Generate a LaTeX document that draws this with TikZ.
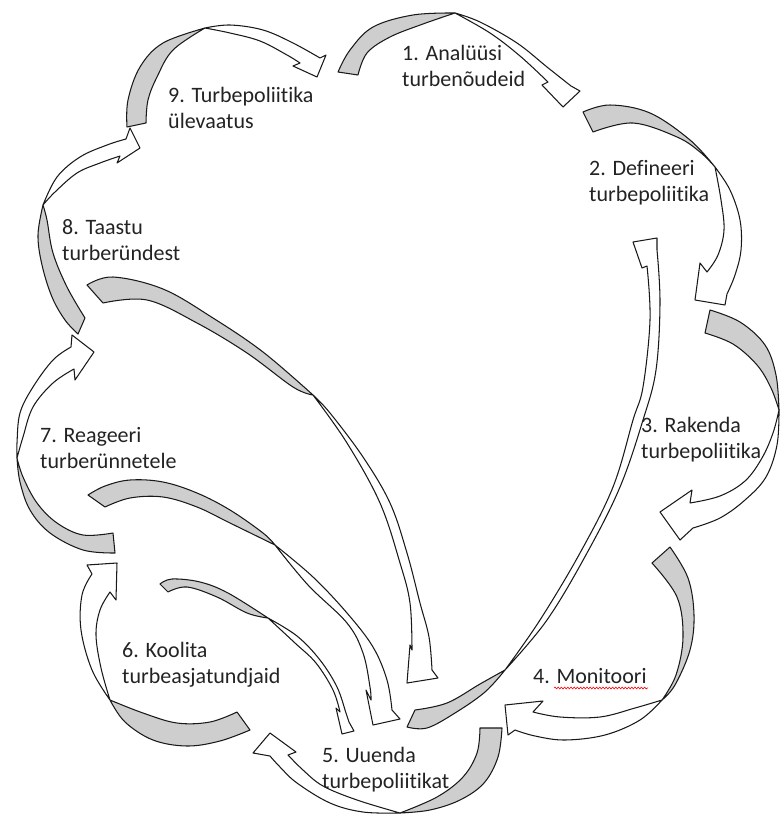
\documentclass[tikz,border=0pt]{standalone}
\usepackage{fontspec}
\setmainfont{Carlito}[Ligatures={NoCommon,NoRequired,NoContextual}]
\usetikzlibrary{decorations.pathmorphing}

\definecolor{bandback}{RGB}{206,206,206}
\definecolor{inkline}{RGB}{25,25,25}
\definecolor{labeltext}{RGB}{35,35,35}

\tikzset{
  backside/.style={fill=bandback, draw=inkline, line width=1.05pt, line join=round},
  frontside/.style={fill=white, draw=inkline, line width=1.05pt, line join=round},
  steplabel/.style={anchor=base west, inner sep=0pt, text=labeltext,
                    font=\fontsize{22}{26}\selectfont},
  spellmark/.style={draw=red, line width=0.6pt,
                    decorate, decoration={snake, amplitude=0.9pt, segment length=3.2pt}},
}

% A twisted curved arrow: shaded back part (outer edge to crossing, then
% inner edge back to the tail), then the white front part with its head.
% #1 outer edge tail->crossing, #2 inner edge crossing->tail,
% #3 outer edge crossing->neck, #4 head corners, #5 inner edge neck->crossing
\newcommand\twistarrow[5]{%
  \filldraw[backside] plot[smooth,tension=0.6] coordinates {#1}
     -- plot[smooth,tension=0.6] coordinates {#2} -- cycle;
  \filldraw[frontside] plot[smooth,tension=0.6] coordinates {#3}
     -- #4 -- plot[smooth,tension=0.6] coordinates {#5} -- cycle;
}

\begin{document}
\begin{tikzpicture}[x=1pt,y=-1pt]
\useasboundingbox (0,0) rectangle (780,814);

% 9 -> 1
\twistarrow{(127,127) (128,100) (140,67) (163,43) (205,28)}
  {(205,28) (173,50) (157,77) (148,100) (146,123)}
  {(205,28) (230,25) (263,30) (293,43) (320,58)}
  {(326,55) -- (317,77) -- (293,66)}
  {(300,63) (287,55) (260,41) (230,33) (205,28)}

% 1 -> 2
\twistarrow{(338,72) (350,50) (373,27) (413,15) (455,13)}
  {(455,13) (423,24) (390,37) (367,53) (358,75)}
  {(455,13) (480,22) (517,43) (547,67) (571,86)}
  {(580,91) -- (563,107) -- (542,85)}
  {(548,82) (520,56) (490,33) (455,13)}

% 2 -> 3
\twistarrow{(583,112) (610,105) (650,113) (690,140) (715,167)}
  {(715,167) (700,152) (677,137) (633,123) (593,132)}
  {(715,167) (730,190) (740,220) (741,250) (735,275) (727,294)}
  {(725,305) -- (695,300) -- (700,263)}
  {(707,272) (718,255) (724,230) (721,200) (715,167)}

% 3 -> 4
\twistarrow{(710,310) (740,322) (765,345) (776,375) (779,410)}
  {(779,410) (771,388) (757,365) (733,344) (705,333)}
  {(779,410) (777,445) (766,477) (745,500) (720,518) (693,528)}
  {(680,540) -- (660,512) -- (692,490)}
  {(690,503) (720,496) (745,481) (762,458) (773,433) (779,410)}

% 4 -> 5
\twistarrow{(670,547) (688,578) (694,615) (690,650) (675,685) (662,700)}
  {(662,700) (676,675) (683,637) (677,597) (652,563)}
  {(662,700) (640,720) (605,735) (565,740) (535,736) (515,730)}
  {(508,735) -- (505,705) -- (543,701)}
  {(533,712) (560,717) (600,717) (635,708) (662,700)}

% 5 -> 6
\twistarrow{(502,728) (498,757) (484,783) (460,800) (430,810) (400,813)}
  {(400,813) (437,797) (463,777) (477,753) (480,728)}
  {(400,813) (363,812) (330,803) (297,783) (280,767) (270,756)}
  {(253,753) -- (270,733) -- (296,752)}
  {(288,755) (303,770) (323,786) (357,800) (400,813)}

% 6 -> 7
\twistarrow{(250,730) (220,741) (187,746) (153,740) (125,722) (110,700)}
  {(110,700) (143,713) (177,723) (210,722) (237,712)}
  {(110,700) (92,670) (81,630) (82,595) (92,574)}
  {(87,565) -- (117,563) -- (116,600)}
  {(110,592) (100,610) (96,635) (101,668) (110,700)}

% 7 -> 8
\twistarrow{(115,553) (83,550) (50,533) (30,510) (20,482) (17,458)}
  {(17,458) (23,477) (37,503) (57,523) (83,535) (113,533)}
  {(17,458) (17,443) (20,413) (33,387) (53,360) (71,347)}
  {(72,335) -- (94,352) -- (75,380)}
  {(74,369) (53,383) (33,407) (23,437) (17,458)}

% 8 -> 9
\twistarrow{(78,334) (65,320) (52,297) (42,265) (38,235) (43,205)}
  {(43,205) (47,220) (53,253) (67,287) (85,318)}
  {(43,205) (57,177) (80,157) (107,145) (126,139)}
  {(130,128) -- (140,148) -- (117,163)}
  {(120,156) (100,163) (77,173) (55,192) (43,205)}

% 5 -> 2
\twistarrow{(407,727) (427,728) (455,713) (485,692) (505,670)}
  {(505,670) (480,684) (447,703) (415,710)}
  {(505,670) (547,620) (587,553) (620,487) (643,420) (656,370) (660,303) (657,250)}
  {(657,238) -- (633,242) -- (642,268)}
  {(647,266) (650,320) (643,387) (633,420) (613,487) (580,553) (540,620) (505,670)}

% 8 -> 5
\twistarrow{(87,285) (113,277) (163,289) (213,318) (263,352) (313,395)}
  {(313,395) (293,387) (247,353) (197,323) (147,300) (103,303)}
  {(313,395) (330,413) (363,457) (390,503) (407,553) (420,603) (429,637) (432,670)}
  {(438,678) -- (407,683) -- (410,645)}
  {(412,650) (410,603) (400,563) (380,503) (347,443) (313,395)}

% 7 -> 5
\twistarrow{(88,495) (105,486) (130,480) (163,482) (197,493) (230,510) (263,533) (275,545)}
  {(275,545) (230,523) (197,507) (163,497) (130,498) (105,507)}
  {(275,545) (313,577) (347,613) (373,647) (387,680) (392,710)}
  {(400,719) -- (373,725) -- (366,690)}
  {(371,700) (370,687) (363,653) (347,623) (308,585) (275,545)}

% 6 -> 5
\twistarrow{(160,584) (172,579) (200,582) (228,593) (268,618)}
  {(268,618) (247,613) (217,597) (187,587) (168,592)}
  {(268,618) (297,636) (320,660) (337,687) (346,713) (349,722)}
  {(354,731) -- (342,734) -- (336,708)}
  {(340,712) (333,690) (316,663) (295,643) (268,618)}

% step labels
\node[steplabel] (s1) at (402,60)  {\begin{tabular}[t]{@{}l@{}}1. Analüüsi\\turbenõudeid\end{tabular}};
\node[steplabel] (s2) at (589,175) {\begin{tabular}[t]{@{}l@{}}2. Defineeri\\turbepoliitika\end{tabular}};
\node[steplabel] (s3) at (641,432) {\begin{tabular}[t]{@{}l@{}}3. Rakenda\\turbepoliitika\end{tabular}};
\node[steplabel] (s4) at (533,683) {4. Monitoori};
\node[steplabel] (s5) at (322,762) {\begin{tabular}[t]{@{}l@{}}5. Uuenda\\turbepoliitikat\end{tabular}};
\node[steplabel] (s6) at (122,657) {\begin{tabular}[t]{@{}l@{}}6. Koolita\\turbeasjatundjaid\end{tabular}};
\node[steplabel] (s7) at (40,442)  {\begin{tabular}[t]{@{}l@{}}7. Reageeri\\turberünnetele\end{tabular}};
\node[steplabel] (s8) at (62,234)  {\begin{tabular}[t]{@{}l@{}}8. Taastu\\turberündest\end{tabular}};
\node[steplabel] (s9) at (168,102) {\begin{tabular}[t]{@{}l@{}}9. Turbepoliitika\\ülevaatus\end{tabular}};

% spelling underline below the word in step 4
\coordinate (m4a) at (554,688);
\coordinate (m4b) at (648,688);
\draw[spellmark] (m4a) -- (m4b);

\end{tikzpicture}
\end{document}
